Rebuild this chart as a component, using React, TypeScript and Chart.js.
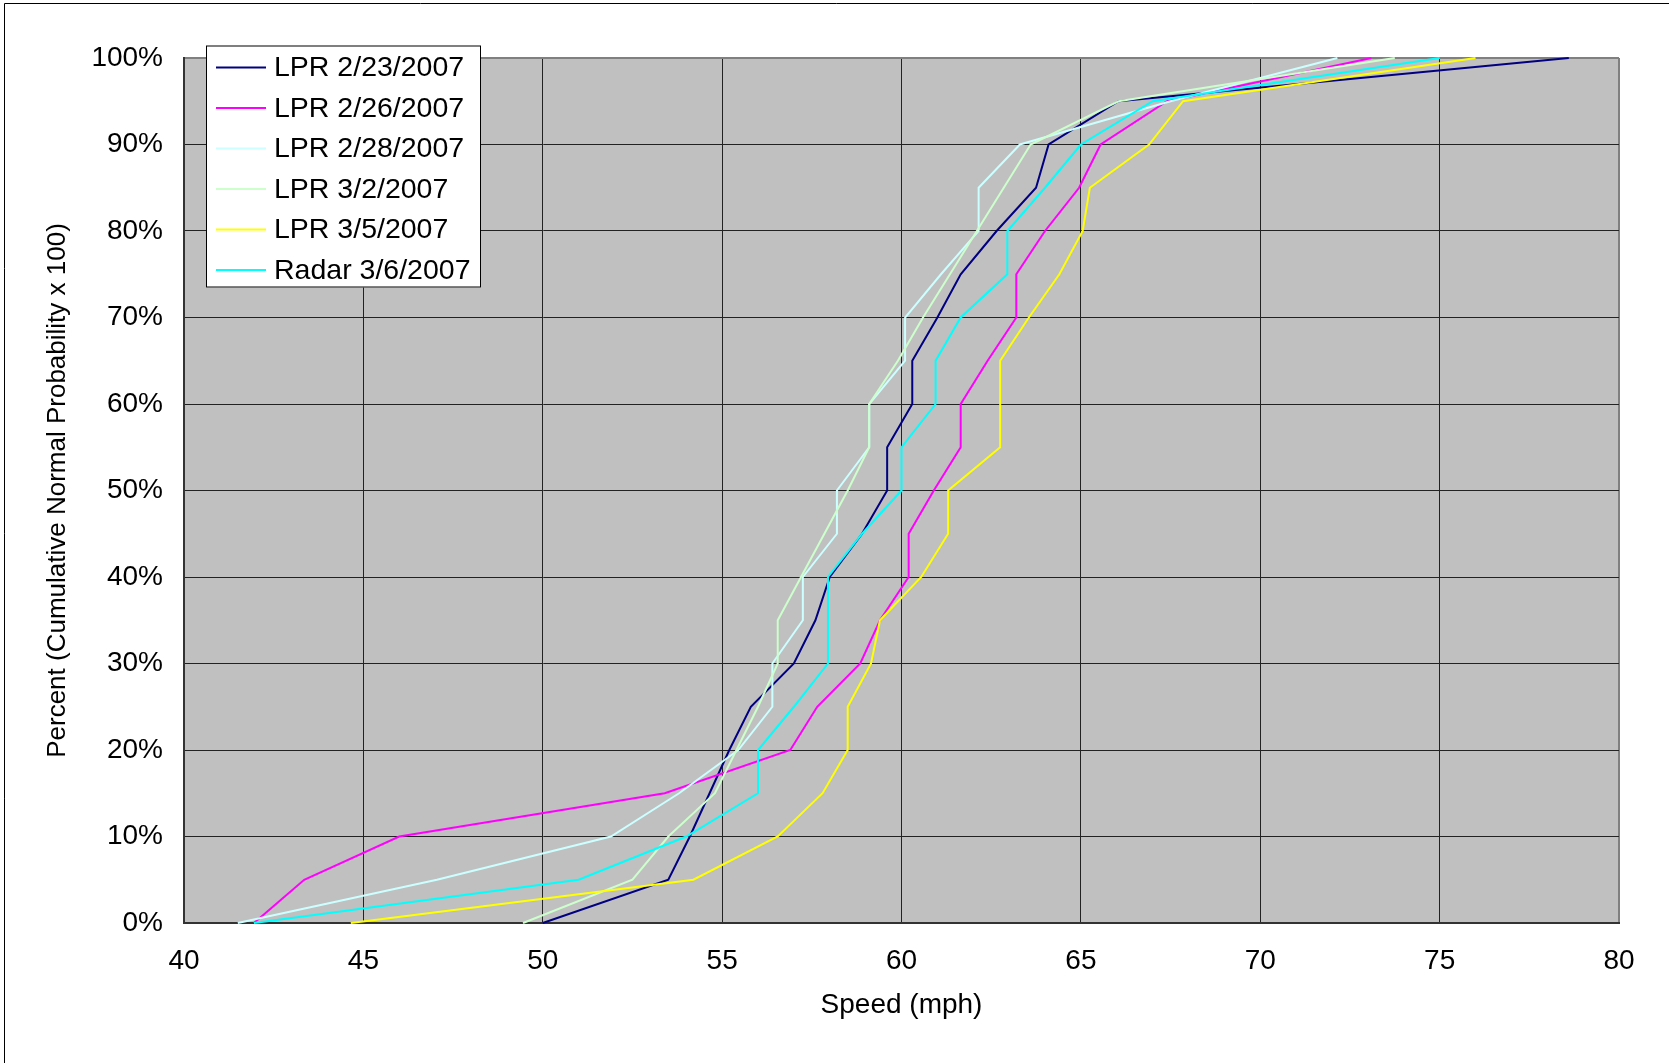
import React, { useEffect, useRef } from 'react';
import { Chart, registerables } from 'chart.js';

Chart.register(...registerables);

// Cumulative percent levels (y values)
const percentLevels = [0, 5, 10, 15, 20, 25, 30, 35, 40, 45, 50, 55, 60, 65, 70, 75, 80, 85, 90, 95, 100];

// Speeds (mph) at each percent level
const lpr0223 = [50.0, 53.5, 54.1, 54.65, 55.2, 55.8, 57.0, 57.6, 58.0, 58.9, 59.6, 59.6, 60.3, 60.3, 61.0, 61.65, 62.65, 63.75, 64.1, 66.05, 78.6];
const lpr0226 = [41.95, 43.35, 46.0, 53.4, 56.9, 57.65, 58.85, 59.4, 60.2, 60.2, 60.9, 61.65, 61.65, 62.4, 63.2, 63.2, 64.0, 64.95, 65.55, 67.4, 73.1];
const lpr0228 = [41.5, 47.05, 51.9, 53.8, 55.45, 56.4, 56.4, 57.25, 57.25, 58.2, 58.2, 59.1, 59.1, 60.1, 60.1, 61.1, 62.15, 62.15, 63.3, 67.5, 72.15];
const lpr0302 = [49.45, 52.5, 53.5, 54.8, 55.4, 56.0, 56.55, 56.55, 57.2, 57.85, 58.5, 59.1, 59.1, 59.9, 60.6, 61.35, 62.1, 62.85, 63.6, 66.05, 73.75];
const lpr0305 = [44.65, 54.2, 56.55, 57.8, 58.5, 58.5, 59.15, 59.4, 60.55, 61.3, 61.3, 62.75, 62.75, 62.75, 63.55, 64.4, 65.05, 65.25, 66.9, 67.85, 76.0];
const radar0306 = [41.95, 51.0, 54.0, 56.0, 56.0, 57.0, 57.95, 57.95, 57.95, 58.9, 60.0, 60.0, 60.95, 60.95, 61.65, 62.95, 62.95, 64.0, 65.0, 67.0, 75.0];

const seriesLabels = ['LPR 2/23/2007', 'LPR 2/26/2007', 'LPR 2/28/2007', 'LPR 3/2/2007', 'LPR 3/5/2007', 'Radar 3/6/2007'];
const seriesValues = [lpr0223, lpr0226, lpr0228, lpr0302, lpr0305, radar0306];
const seriesColors = ['#000080', '#FF00FF', '#CCFFFF', '#CCFFCC', '#FFFF00', '#00FFFF'];

// Axis ranges / tick steps
const xMin = 40, xMax = 80, xStep = 5;
const yMin = 0, yMax = 100, yStep = 10;

const FONT = '"Liberation Sans", Arial, sans-serif';

const backgroundPlugin = {
  id: 'bgPlugin',
  beforeDraw(chart: any) {
    const { ctx, chartArea: a, width, height } = chart;
    ctx.save();
    ctx.fillStyle = '#ffffff';
    ctx.fillRect(0, 0, width, height);
    ctx.strokeStyle = '#000000';
    ctx.lineWidth = 1;
    ctx.beginPath();
    ctx.moveTo(4.5, height);
    ctx.lineTo(4.5, 3.5);
    ctx.lineTo(width, 3.5);
    ctx.stroke();
    ctx.fillStyle = '#C0C0C0';
    ctx.fillRect(a.left, a.top, a.right - a.left, a.bottom - a.top);
    ctx.restore();
  },
};

const legendPlugin = {
  id: 'boxLegend',
  afterDraw(chart: any) {
    const { ctx } = chart;
    const left = 206, top = 45.5, w = 275, h = 242;
    ctx.save();
    ctx.fillStyle = '#ffffff';
    ctx.fillRect(left, top, w, h);
    ctx.strokeStyle = '#000000';
    ctx.lineWidth = 1;
    ctx.strokeRect(left + 0.5, top + 0.5, w - 1, h - 1);
    ctx.font = `28.5px ${FONT}`;
    ctx.textBaseline = 'middle';
    ctx.textAlign = 'left';
    chart.data.datasets.forEach((ds: any, i: number) => {
      const y = top + 22 + i * 40.5;
      ctx.strokeStyle = ds.borderColor;
      ctx.lineWidth = 2;
      ctx.beginPath();
      ctx.moveTo(left + 10, y);
      ctx.lineTo(left + 60, y);
      ctx.stroke();
      ctx.fillStyle = '#000000';
      ctx.fillText(ds.label, left + 68, y + 1);
    });
    ctx.restore();
  },
};

export default function App() {
  const canvasRef = useRef<HTMLCanvasElement | null>(null);

  useEffect(() => {
    const canvas = canvasRef.current;
    if (!canvas) return;
    const datasets = seriesLabels.map((label, i) => ({
      label,
      data: seriesValues[i].map((x, j) => ({ x, y: percentLevels[j] })),
      borderColor: seriesColors[i],
      backgroundColor: seriesColors[i],
      borderWidth: 2,
      pointRadius: 0,
      tension: 0,
      fill: false,
      clip: 4,
      order: seriesLabels.length - i,
    }));

    const chart = new Chart(canvas, {
      type: 'line',
      data: { datasets },
      options: {
        responsive: false,
        animation: false,
        devicePixelRatio: 1,
        layout: { padding: { top: 58, right: 50, left: 0, bottom: 0 } },
        plugins: {
          legend: { display: false },
          tooltip: { enabled: false },
        },
        scales: {
          x: {
            type: 'linear',
            min: xMin,
            max: xMax,
            ticks: {
              stepSize: xStep,
              color: '#000000',
              font: { family: FONT, size: 28 },
              padding: 21,
              maxRotation: 0,
            },
            grid: {
              color: (c: any) => (c.tick && c.tick.value === xMax ? '#808080' : '#222222'),
              lineWidth: (c: any) => (c.tick && c.tick.value === xMax ? 2 : 1),
              drawTicks: false,
            },
            border: { display: true, color: '#333333', width: 2 },
            title: {
              display: true,
              text: 'Speed (mph)',
              color: '#000000',
              font: { family: FONT, size: 28 },
              padding: { top: 0, bottom: 41 },
            },
            afterFit: (scale: any) => {
              scale.height = 140;
            },
          },
          y: {
            type: 'linear',
            min: yMin,
            max: yMax,
            ticks: {
              stepSize: yStep,
              color: '#000000',
              font: { family: FONT, size: 28 },
              padding: 21,
              callback: (v: any) => `${v}%`,
            },
            grid: {
              color: (c: any) => (c.tick && c.tick.value === yMax ? '#808080' : '#222222'),
              lineWidth: (c: any) => (c.tick && c.tick.value === yMax ? 2 : 1),
              drawTicks: false,
            },
            border: { display: true, color: '#333333', width: 2 },
            title: {
              display: true,
              text: 'Percent (Cumulative Normal Probability x 100)',
              color: '#000000',
              font: { family: FONT, size: 26 },
              padding: { top: 42, bottom: 0 },
            },
            afterFit: (scale: any) => {
              scale.width = 184;
            },
          },
        },
      },
      plugins: [backgroundPlugin, legendPlugin],
    });

    return () => {
      chart.destroy();
    };
  }, []);

  return (
    <div style={{ position: 'fixed', left: 0, top: 0, width: 1669, height: 1063, overflow: 'hidden', background: '#fff' }}>
      <canvas ref={canvasRef} width={1669} height={1063} style={{ display: 'block', width: 1669, height: 1063 }} />
    </div>
  );
}
